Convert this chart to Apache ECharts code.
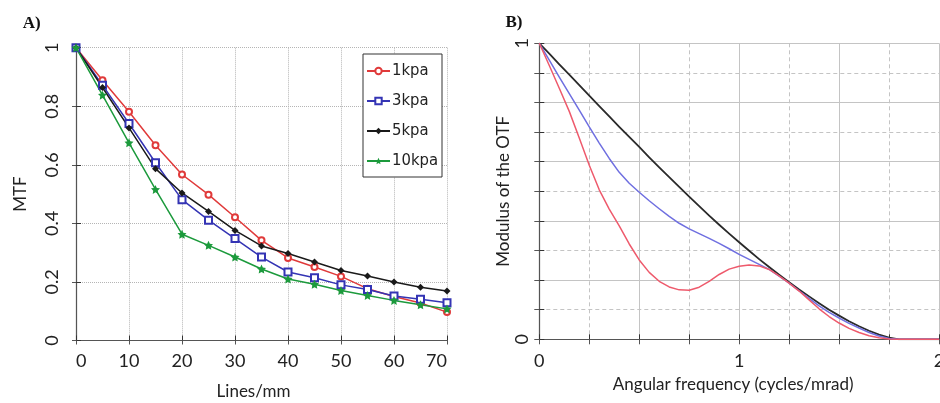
<!DOCTYPE html>
<html>
<head>
<meta charset="utf-8">
<script src="https://cdn.jsdelivr.net/npm/echarts@6/dist/echarts.min.js"></script>
<style>html,body{margin:0;padding:0;background:#fff;}#c{width:940px;height:403px;}</style>
</head>
<body>
<div id="c"></div>
<script>
// ---------- Panel A data ----------
const aLines = [0,5,10,15,20,25,30,35,40,45,50,55,60,65,70];
const a1kpa  = [1,0.889,0.781,0.667,0.567,0.498,0.421,0.342,0.282,0.251,0.219,0.177,0.150,0.128,0.097];
const a3kpa  = [1,0.872,0.741,0.607,0.481,0.411,0.348,0.285,0.234,0.214,0.190,0.174,0.152,0.141,0.129];
const a5kpa  = [1,0.864,0.726,0.587,0.504,0.441,0.376,0.323,0.297,0.268,0.239,0.220,0.200,0.182,0.169];
const a10kpa = [1,0.838,0.675,0.516,0.363,0.325,0.285,0.244,0.210,0.192,0.171,0.154,0.137,0.122,0.108];
const aNames = ['1kpa','3kpa','5kpa','10kpa'];
const aXTicks = [0,10,20,30,40,50,60,70];
const aYTicks = [0,0.2,0.4,0.6,0.8,1];

// ---------- Panel B data ----------
const bFreq  = [0,0.05,0.1,0.15,0.2,0.25,0.3,0.35,0.4,0.45,0.5,0.55,0.6,0.65,0.7,0.75,0.8,0.85,0.9,0.95,1.0,
                1.05,1.1,1.15,1.2,1.25,1.3,1.35,1.4,1.45,1.5,1.55,1.6,1.65,1.7,1.75,1.8,1.85,1.9,1.95,2.0];
const bBlack = [1,0.965,0.929,0.894,0.859,0.823,0.788,0.753,0.718,0.684,0.65,0.615,0.581,0.548,0.515,0.482,0.45,0.418,0.387,0.357,0.328,
                0.299,0.271,0.244,0.218,0.193,0.168,0.145,0.122,0.1,0.08,0.061,0.044,0.029,0.016,0.006,0,0,0,0,0];
const bBlue  = [1,0.943,0.886,0.83,0.774,0.718,0.663,0.611,0.564,0.527,0.497,0.468,0.441,0.415,0.392,0.373,0.357,0.341,0.324,0.306,0.287,
                0.27,0.253,0.236,0.213,0.19,0.164,0.138,0.113,0.091,0.072,0.054,0.038,0.023,0.011,0.003,0,0,0,0,0];
const bRed   = [1,0.925,0.848,0.77,0.68,0.588,0.505,0.44,0.383,0.322,0.268,0.226,0.196,0.177,0.167,0.166,0.176,0.196,0.219,0.237,0.247,
                0.251,0.248,0.236,0.214,0.19,0.163,0.133,0.103,0.077,0.055,0.037,0.023,0.012,0.005,0.001,0,0,0,0,0];
const bXTickLabels = ['0','1','2'];
const bYTickLabels = ['0','1'];

const pair = (xs, ys) => xs.map((x, i) => [x, ys[i]]);
const FONT = 'Lato, "Open Sans", sans-serif';
const AX = '#333';

const chart = echarts.init(document.getElementById('c'), null, {renderer: 'canvas'});

const starPath = 'path://M0,-10 L2.9,-4 9.5,-3.1 4.7,1.5 5.9,8.1 0,5 -5.9,8.1 -4.7,1.5 -9.5,-3.1 -2.9,-4Z';

function intLabel(list) {
  return function (v) {
    const r = Math.round(v);
    if (Math.abs(v - r) < 1e-9 && list.indexOf(String(r)) >= 0) return String(r);
    return '';
  };
}

const option = {
  animation: false,
  backgroundColor: '#fff',
  graphic: [
    {type: 'text', x: 31.7, y: 24, style: {text: 'A)', fontFamily: '"Liberation Serif", serif', fontWeight: 'bold', fontSize: 17, fill: '#111', textAlign: 'center', textVerticalAlign: 'middle'}},
    {type: 'text', x: 514, y: 23, style: {text: 'B)', fontFamily: '"Liberation Serif", serif', fontWeight: 'bold', fontSize: 17, fill: '#111', textAlign: 'center', textVerticalAlign: 'middle'}}
  ],
  legend: {
    data: aNames,
    orient: 'vertical',
    left: 363, top: 54,
    backgroundColor: '#fff',
    borderColor: '#333', borderWidth: 1, borderRadius: 0,
    padding: [8, 4, 7, 3],
    itemGap: 12, itemWidth: 23, itemHeight: 8,
    textStyle: {fontFamily: '"Liberation Sans Narrow", "DejaVu Sans Condensed", "Liberation Sans", Arial, sans-serif', fontSize: 16.5, lineHeight: 18, color: '#222', padding: [0, 0, 0, -3]}
  },
  grid: [
    {left: 76, right: 493, top: 47.7, bottom: 62.5, containLabel: false, outerBoundsMode: 'none'},
    {left: 539.3, right: 1, top: 43.3, bottom: 63.7, containLabel: false, outerBoundsMode: 'none'}
  ],
  xAxis: [
    { // A bottom
      type: 'value', gridIndex: 0, min: 0, max: 70, interval: 10, position: 'bottom',
      name: 'Lines/mm', nameLocation: 'middle', nameGap: 43,
      nameTextStyle: {fontFamily: FONT, fontSize: 17, color: '#222', padding: [0, 16, 0, 0]},
      axisLine: {show: true, lineStyle: {color: AX, width: 1.2}},
      axisTick: {show: true, inside: true, length: 5, lineStyle: {color: AX}},
      axisLabel: {fontFamily: FONT, fontSize: 18, color: '#222', margin: 12,
                  alignMinLabel: 'left', alignMaxLabel: 'right',
                  formatter: v => (aXTicks.indexOf(v) >= 0 ? String(v) : '')},
      splitLine: {show: true, lineStyle: {color: '#b5b5b5', type: 'dotted', width: 1}}
    },
    { // A top
      type: 'value', gridIndex: 0, min: 0, max: 70, interval: 10, position: 'top',
      axisLine: {show: true, lineStyle: {color: '#555', width: 1}},
      axisTick: {show: true, inside: true, length: 4, lineStyle: {color: '#555'}},
      axisLabel: {show: false}, splitLine: {show: false}
    },
    { // B bottom
      type: 'value', gridIndex: 1, min: 0, max: 2, interval: 0.5, position: 'bottom',
      name: 'Angular frequency (cycles/mrad)', nameLocation: 'middle', nameGap: 37,
      nameTextStyle: {fontFamily: FONT, fontSize: 17, color: '#222', padding: [0, 12, 0, 0]},
      axisLine: {show: true, lineStyle: {color: AX, width: 1.2}},
      axisTick: {show: true, inside: true, length: 5, lineStyle: {color: AX}},
      minorTick: {show: true, splitNumber: 2, length: 5, lineStyle: {color: AX}},
      axisLabel: {fontFamily: FONT, fontSize: 18, color: '#222', margin: 13, formatter: intLabel(bXTickLabels)},
      splitLine: {show: true, lineStyle: {color: '#c4c4c4', type: 'solid', width: 1}},
      minorSplitLine: {show: true, lineStyle: {color: '#c4c4c4', type: [4, 3], width: 1}}
    },
    { // B top
      type: 'value', gridIndex: 1, min: 0, max: 2, interval: 0.5, position: 'top',
      axisLine: {show: true, lineStyle: {color: '#555', width: 1}},
      axisTick: {show: true, inside: true, length: 5, lineStyle: {color: '#555'}},
      minorTick: {show: true, splitNumber: 2, length: 5, lineStyle: {color: '#555'}},
      axisLabel: {show: false}, splitLine: {show: false}
    }
  ],
  yAxis: [
    { // A left
      type: 'value', gridIndex: 0, min: 0, max: 1, interval: 0.2, position: 'left',
      name: 'MTF', nameLocation: 'middle', nameGap: 47, nameRotate: 90,
      nameTextStyle: {fontFamily: FONT, fontSize: 17, color: '#222'},
      axisLine: {show: true, lineStyle: {color: AX, width: 1.2}},
      axisTick: {show: true, inside: true, length: 5, lineStyle: {color: AX}},
      axisLabel: {fontFamily: FONT, fontSize: 18, color: '#222', margin: 24, rotate: 90,
                  align: 'center', verticalAlign: 'middle',
                  formatter: v => { const t = aYTicks.find(k => Math.abs(k - v) < 1e-9); return t === undefined ? '' : String(t); }},
      splitLine: {show: true, lineStyle: {color: '#b5b5b5', type: 'dotted', width: 1}}
    },
    { // A right
      type: 'value', gridIndex: 0, min: 0, max: 1, interval: 0.2, position: 'right',
      axisLine: {show: true, lineStyle: {color: '#555', width: 1}},
      axisTick: {show: true, inside: true, length: 4, lineStyle: {color: '#555'}},
      axisLabel: {show: false}, splitLine: {show: false}
    },
    { // B left
      type: 'value', gridIndex: 1, min: 0, max: 1, interval: 0.2, position: 'left',
      name: 'Modulus of the OTF', nameLocation: 'middle', nameGap: 24, nameRotate: 90,
      nameTextStyle: {fontFamily: FONT, fontSize: 17, color: '#222'},
      axisLine: {show: true, lineStyle: {color: AX, width: 1.2}},
      axisTick: {show: true, inside: true, length: 5, lineStyle: {color: AX}},
      minorTick: {show: true, splitNumber: 2, length: 5, lineStyle: {color: AX}},
      axisLabel: {fontFamily: FONT, fontSize: 18, color: '#222', margin: 17, rotate: 90,
                  align: 'center', verticalAlign: 'middle', formatter: intLabel(bYTickLabels)},
      splitLine: {show: true, lineStyle: {color: '#c4c4c4', type: 'solid', width: 1}},
      minorSplitLine: {show: true, lineStyle: {color: '#c4c4c4', type: [4, 3], width: 1}}
    },
    { // B right
      type: 'value', gridIndex: 1, min: 0, max: 1, interval: 0.2, position: 'right',
      axisLine: {show: true, lineStyle: {color: '#555', width: 1}},
      axisTick: {show: true, inside: true, length: 5, lineStyle: {color: '#555'}},
      minorTick: {show: true, splitNumber: 2, length: 5, lineStyle: {color: '#555'}},
      axisLabel: {show: false}, splitLine: {show: false}
    }
  ],
  series: [
    {name: aNames[0], type: 'line', xAxisIndex: 0, yAxisIndex: 0, data: pair(aLines, a1kpa),
     color: '#e03a3a', symbol: 'emptyCircle', symbolSize: 6, lineStyle: {width: 1.5}, itemStyle: {borderWidth: 1.2}},
    {name: aNames[1], type: 'line', xAxisIndex: 0, yAxisIndex: 0, data: pair(aLines, a3kpa),
     color: '#3434b4', symbol: 'emptyRect', symbolSize: 7, lineStyle: {width: 1.5}, itemStyle: {borderWidth: 1.2}},
    {name: aNames[2], type: 'line', xAxisIndex: 0, yAxisIndex: 0, data: pair(aLines, a5kpa),
     color: '#1a1a1a', symbol: 'diamond', symbolSize: 7, lineStyle: {width: 1.5}},
    {name: aNames[3], type: 'line', xAxisIndex: 0, yAxisIndex: 0, data: pair(aLines, a10kpa),
     color: '#1c9a3c', symbol: starPath, symbolSize: 9, lineStyle: {width: 1.5}},

    {name: 'B-black', type: 'line', xAxisIndex: 2, yAxisIndex: 2, data: pair(bFreq, bBlack),
     color: '#2a2a2a', showSymbol: false, symbol: 'none', smooth: false, lineStyle: {width: 1.8, join: 'round'}},
    {name: 'B-blue', type: 'line', xAxisIndex: 2, yAxisIndex: 2, data: pair(bFreq, bBlue),
     color: '#6f6fe0', showSymbol: false, symbol: 'none', smooth: false, lineStyle: {width: 1.5, join: 'round'}},
    {name: 'B-red', type: 'line', xAxisIndex: 2, yAxisIndex: 2, data: pair(bFreq, bRed),
     color: '#ee5a6c', showSymbol: false, symbol: 'none', smooth: false, lineStyle: {width: 1.5, join: 'round'}}
  ]
};
chart.setOption(option);
</script>
</body>
</html>
